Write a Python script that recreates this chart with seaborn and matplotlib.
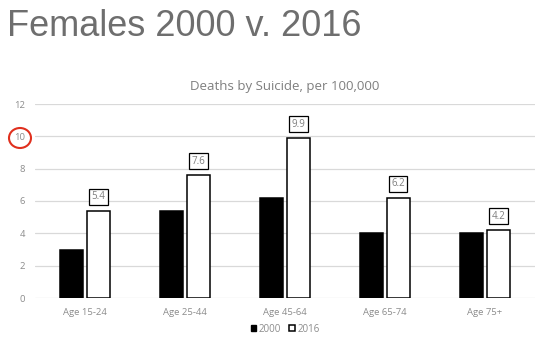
import matplotlib
matplotlib.use('Agg')
import matplotlib.pyplot as plt
from matplotlib.patches import Ellipse, Patch
import numpy as np
import pandas as pd
import seaborn as sns

# data
ages = ['Age 15-24', 'Age 25-44', 'Age 45-64', 'Age 65-74', 'Age 75+']
rate_2000 = [3.0, 5.4, 6.2, 4.05, 4.05]
rate_2016 = [5.4, 7.6, 9.9, 6.2, 4.2]
years = ['2000', '2016']

df = pd.DataFrame({'age': ages * 2,
                   'year': [years[0]] * len(ages) + [years[1]] * len(ages),
                   'rate': rate_2000 + rate_2016})

sns.set_style('white')
plt.rcParams['font.family'] = ['Open Sans', 'DejaVu Sans']
gray = '#8c8c8c'

fig = plt.figure(figsize=(5.43, 3.52), dpi=100)
ax = fig.add_axes([35 / 543, 54 / 352, 500 / 543, 194 / 352])

sns.barplot(data=df, x='age', y='rate', hue='year', palette=['black', 'white'],
            width=0.53, gap=0.15, edgecolor='black', linewidth=1.1, ax=ax,
            legend=False, zorder=3)

# boxed labels over the 2016 bars
for bar, v in zip(ax.containers[1], rate_2016):
    ax.annotate(f'{v:g}', (bar.get_x() + bar.get_width() / 2, v),
                xytext=(0, 6), textcoords='offset points', ha='center', va='bottom',
                fontsize=7, color='#7f7f7f',
                bbox=dict(boxstyle='square,pad=0.25', fc='white', ec='black', lw=0.9))

ax.set_ylim(0, 12)
ax.set_yticks(range(0, 13, 2))
ax.set_xlim(-0.5, 4.5)
ax.grid(axis='y', color='#d9d9d9', lw=0.9, zorder=0)
for s in ax.spines.values():
    s.set_visible(False)
ax.tick_params(axis='both', length=0, labelsize=6.8, labelcolor=gray)
ax.tick_params(axis='y', pad=7)
ax.tick_params(axis='x', pad=7)
ax.set_xlabel('')
ax.set_ylabel('')
ax.set_title('Deaths by Suicide, per 100,000', fontsize=9.5, color='#7f7f7f', pad=10)

# legend
handles = [Patch(fc='black', ec='black'), Patch(fc='white', ec='black', lw=1.1)]
fig.legend(handles, years, loc='center', bbox_to_anchor=(285 / 543, 1 - 329 / 352),
           ncol=2, frameon=False, fontsize=7, labelcolor=gray,
           handlelength=0.6, handleheight=0.6, handletextpad=0.2, columnspacing=0.9)

fig.text(7 / 543, 1 - 26 / 352, 'Females 2000 v. 2016', fontsize=26, color='#6e6e6e',
         family=['Liberation Sans', 'DejaVu Sans'], va='center', ha='left')

fig.add_artist(Ellipse((20 / 543, 1 - 138 / 352), 22 / 543, 20 / 352,
                       transform=fig.transFigure, fill=False, ec='#e0301e', lw=1.5))

fig.savefig('out.png', dpi=100)
